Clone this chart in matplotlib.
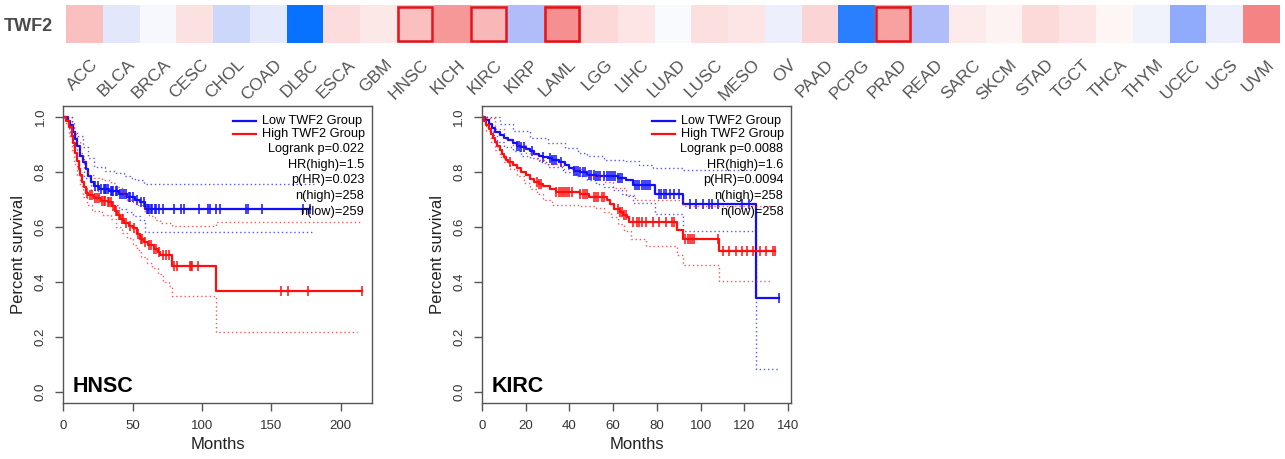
import numpy as np
import matplotlib
matplotlib.use("Agg")
import matplotlib.pyplot as plt
from matplotlib.colors import LinearSegmentedColormap
from matplotlib.patches import Rectangle
from matplotlib.transforms import ScaledTranslation

plt.rcParams['font.family'] = ['Liberation Sans', 'DejaVu Sans']

# ---------------- heatmap data ----------------
cancers = ["ACC", "BLCA", "BRCA", "CESC", "CHOL", "COAD", "DLBC", "ESCA", "GBM", "HNSC",
           "KICH", "KIRC", "KIRP", "LAML", "LGG", "LIHC", "LUAD", "LUSC", "MESO", "OV",
           "PAAD", "PCPG", "PRAD", "READ", "SARC", "SKCM", "STAD", "TGCT", "THCA", "THYM",
           "UCEC", "UCS", "UVM"]
hr_score = [0.28, -0.10, -0.03, 0.13, -0.20, -0.09, -0.97, 0.15, 0.10, 0.28,
            0.45, 0.31, -0.31, 0.49, 0.17, 0.11, -0.02, 0.14, 0.11, -0.06,
            0.18, -0.84, 0.41, -0.31, 0.09, 0.05, 0.16, 0.11, 0.04, -0.05,
            -0.43, -0.06, 0.54]
significant = ["HNSC", "KIRC", "LAML", "PRAD"]
gene = "TWF2"

# ---------------- HNSC survival ----------------
hnsc_low_t = [0, 3, 5, 7, 8.5, 10, 12, 14, 16, 18, 20, 22, 26, 33, 40, 46, 52, 55, 59, 178]
hnsc_low_s = [1, 0.985, 0.97, 0.945, 0.92, 0.895, 0.86, 0.835, 0.81, 0.785, 0.765, 0.75,
              0.74, 0.73, 0.72, 0.71, 0.70, 0.69, 0.665, 0.665]
hnsc_low_cens = [23, 25, 27, 29, 30, 31, 32, 34, 35, 36, 38, 39, 41, 42, 44, 45, 47, 48, 50,
                 53, 56, 58, 60, 61, 62, 63, 64, 66, 67, 69, 72, 80, 85, 87, 98, 104, 106,
                 110, 113, 132, 133, 143, 173, 178]
hnsc_low_up_t = [0, 3, 6, 8, 10, 14, 18, 22, 30, 38, 44, 48, 52, 58, 181]
hnsc_low_up_s = [1, 1, 0.98, 0.95, 0.93, 0.89, 0.85, 0.82, 0.805, 0.795, 0.785, 0.78, 0.77,
                 0.757, 0.757]
hnsc_low_lo_t = [0, 3, 5, 7, 10, 15, 20, 25, 30, 35, 40, 45, 50, 55, 59, 181]
hnsc_low_lo_s = [1, 0.96, 0.935, 0.90, 0.86, 0.78, 0.735, 0.71, 0.69, 0.68, 0.665, 0.655,
                 0.64, 0.627, 0.582, 0.582]

hnsc_high_t = [0, 2, 4, 6, 7, 8.5, 10, 11, 12, 13.5, 15, 16.5, 18, 22, 27, 32, 35, 37, 39,
               41, 44, 47, 50, 53, 55, 58, 61, 65, 68, 70, 78, 110, 215]
hnsc_high_s = [1, 0.985, 0.965, 0.93, 0.905, 0.87, 0.84, 0.81, 0.79, 0.765, 0.745, 0.725,
               0.715, 0.705, 0.695, 0.69, 0.675, 0.66, 0.645, 0.63, 0.615, 0.605, 0.595,
               0.575, 0.555, 0.545, 0.535, 0.52, 0.51, 0.50, 0.46, 0.367, 0.367]
hnsc_high_cens = [17, 19, 21, 23, 24, 26, 28, 29, 30, 32, 33, 34, 36, 38, 40, 42, 43, 45, 48,
                  51, 54, 56, 57, 59, 62, 63, 65, 67, 69, 72, 74, 76, 80, 82, 91, 92, 93, 97,
                  157, 162, 176, 215]
hnsc_high_up_t = [0, 3, 6, 8, 10, 12, 14, 16, 18, 22, 28, 34, 38, 42, 46, 50, 54, 58, 62,
                  66, 70, 78, 110, 214]
hnsc_high_up_s = [1, 1, 0.97, 0.94, 0.91, 0.87, 0.84, 0.81, 0.79, 0.78, 0.77, 0.76, 0.745,
                  0.72, 0.70, 0.69, 0.68, 0.66, 0.64, 0.625, 0.615, 0.602, 0.617, 0.617]
hnsc_high_lo_t = [0, 2, 4, 6, 8, 10, 12, 14, 17, 21, 28, 34, 38, 42, 46, 50, 53, 56, 60, 64,
                  68, 72, 76, 78, 110, 212]
hnsc_high_lo_s = [1, 0.97, 0.93, 0.88, 0.83, 0.79, 0.75, 0.71, 0.68, 0.66, 0.645, 0.63,
                  0.60, 0.58, 0.56, 0.535, 0.515, 0.49, 0.47, 0.45, 0.43, 0.40, 0.384,
                  0.348, 0.218, 0.218]

# ---------------- KIRC survival ----------------
kirc_low_t = [0, 1.5, 3, 4.5, 6, 8, 10, 12, 14, 16, 18, 20, 22, 24, 26, 28, 30, 32, 35, 38,
              40, 42, 45, 48, 52, 56, 62, 66, 69, 79, 92, 125.5, 136]
kirc_low_s = [1, 0.99, 0.975, 0.96, 0.945, 0.935, 0.925, 0.915, 0.905, 0.895, 0.89, 0.885,
              0.875, 0.865, 0.86, 0.855, 0.85, 0.845, 0.835, 0.825, 0.815, 0.805, 0.80,
              0.79, 0.787, 0.784, 0.78, 0.772, 0.754, 0.721, 0.685, 0.342, 0.342]
kirc_low_cens = [16, 17, 18, 19, 23, 28, 31, 32, 33, 34, 36, 42, 43, 44, 45, 46, 47, 49, 50,
                 51, 52, 53, 54, 56, 57, 58, 59, 60, 61, 62, 63, 64, 70, 71, 72, 73, 74, 75,
                 76, 77, 81, 82, 83, 84, 86, 88, 90, 95, 98, 101, 104, 105, 108, 119, 122,
                 136]
kirc_low_up_t = [0, 4, 8, 14, 22, 30, 38, 44, 48, 56, 66, 72, 78, 92, 125.5]
kirc_low_up_s = [1, 1, 0.975, 0.95, 0.925, 0.905, 0.887, 0.87, 0.857, 0.845, 0.839, 0.827,
                 0.815, 0.808, 0.808]
kirc_low_lo_t = [0, 3, 5, 7, 10, 14, 18, 22, 26, 30, 37, 43, 48, 52, 56, 60, 64, 66, 69, 79,
                 92, 125.5, 135.5]
kirc_low_lo_s = [1, 0.96, 0.935, 0.91, 0.89, 0.875, 0.86, 0.85, 0.835, 0.82, 0.80, 0.785,
                 0.77, 0.755, 0.745, 0.736, 0.72, 0.711, 0.687, 0.647, 0.584, 0.084, 0.084]

kirc_high_t = [0, 1, 2, 3, 4, 5, 6, 7, 8, 9, 10, 11, 12, 14, 16, 18, 20, 22, 24, 26, 28, 31,
               34, 45, 49, 57, 58.5, 60.5, 63, 64.5, 66.5, 67, 89, 92, 108.5, 134]
kirc_high_s = [1, 0.985, 0.97, 0.955, 0.94, 0.925, 0.91, 0.895, 0.88, 0.865, 0.855, 0.845,
               0.835, 0.825, 0.815, 0.80, 0.79, 0.775, 0.765, 0.755, 0.748, 0.74, 0.728,
               0.72, 0.71, 0.70, 0.685, 0.665, 0.655, 0.645, 0.635, 0.62, 0.588, 0.556,
               0.514, 0.514]
kirc_high_cens = [13, 25, 26, 27, 34, 35, 36, 37, 38, 39, 40, 41, 45, 46, 47, 48, 51, 52, 53,
                  55, 56, 62, 63, 64, 65, 66, 69, 71, 72, 73, 75, 78, 81, 84, 87, 88, 93, 94,
                  95, 96, 97, 108, 110, 113, 116, 119, 121, 124, 127, 130, 133, 134]
kirc_high_up_t = [0, 3, 6, 10, 14, 20, 25, 29, 37, 48, 56, 60, 66, 70, 92, 132]
kirc_high_up_s = [1, 0.995, 0.955, 0.92, 0.90, 0.87, 0.845, 0.83, 0.81, 0.784, 0.765, 0.742,
                  0.717, 0.70, 0.675, 0.675]
kirc_high_lo_t = [0, 2, 4, 6, 8, 10, 13, 16, 19, 22, 25, 28, 32, 45, 52, 56, 59, 62, 65, 68,
                  75, 89, 92, 108.5, 132]
kirc_high_lo_s = [1, 0.95, 0.91, 0.88, 0.855, 0.835, 0.81, 0.785, 0.76, 0.74, 0.72, 0.70,
                  0.68, 0.675, 0.668, 0.655, 0.635, 0.61, 0.585, 0.555, 0.53, 0.50, 0.463,
                  0.402, 0.402]

hnsc_stats = ["Logrank p=0.022", "HR(high)=1.5", "p(HR)=0.023", "n(high)=258", "n(low)=259"]
kirc_stats = ["Logrank p=0.0088", "HR(high)=1.6", "p(HR)=0.0094", "n(high)=258", "n(low)=258"]

BLUE = "#1010ff"
RED = "#ff1010"
AXCOL = "#555555"

fig = plt.figure(figsize=(12.85, 4.59), dpi=100)

# ---------------- heatmap ----------------
cmap = LinearSegmentedColormap.from_list(
    "gepia", [(0.0, "#0070ff"), (0.08, "#2a80ff"), (0.285, "#92acfb"),
              (0.345, "#b0bdf9"), (0.40, "#cdd7fa"), (0.45, "#e2e7fb"),
              (0.5, "#ffffff"), (1.0, "#ee1c1c")])
axh = fig.add_axes([0.051, 0.9063, 0.9443, 0.0828])
axh.imshow(np.array(hr_score)[None, :], cmap=cmap, vmin=-1, vmax=1, aspect="auto",
           extent=(-0.5, len(cancers) - 0.5, 0.5, -0.5))
for name in significant:
    i = cancers.index(name)
    axh.add_patch(Rectangle((i - 0.47, -0.45), 0.94, 0.9, fill=False,
                            edgecolor="#e3121b", lw=1.8))
axh.set_xlim(-0.5, len(cancers) - 0.5)
axh.set_ylim(0.5, -0.5)
axh.set_xticks(range(len(cancers)))
axh.set_xticklabels(cancers, rotation=45, ha="right", rotation_mode="anchor",
                    fontsize=12.5, color="#555555")
axh.tick_params(axis="x", length=0, pad=10)
off = ScaledTranslation(6 / 100, 0, fig.dpi_scale_trans)
for lab in axh.get_xticklabels():
    lab.set_transform(lab.get_transform() + off)
axh.set_yticks([0])
axh.set_yticklabels([gene], fontsize=13, fontweight="bold", color="#4a4a4a")
axh.tick_params(axis="y", length=0, pad=9)
for sp in axh.spines.values():
    sp.set_visible(False)


def step_at(t, s, x):
    idx = np.searchsorted(t, x, side="right") - 1
    return np.asarray(s)[idx]


def km_panel(ax, name, xmax, xticks, curves, stats):
    for t, s, cens, up_t, up_s, lo_t, lo_s, col in curves:
        ax.step(up_t, up_s, where="post", color=col, lw=1, ls=(0, (1, 2)), alpha=0.7)
        ax.step(lo_t, lo_s, where="post", color=col, lw=1, ls=(0, (1, 2)), alpha=0.7)
        ax.step(t, s, where="post", color=col, lw=1.6)
        ax.plot(cens, step_at(t, s, cens), ls="none", marker="|", ms=7, mew=1.1, color=col)
    ax.set_xlim(0, xmax)
    ax.set_ylim(-0.04, 1.04)
    ax.set_xticks(xticks)
    ax.set_yticks([0, 0.2, 0.4, 0.6, 0.8, 1.0])
    ax.set_yticklabels(["0.0", "0.2", "0.4", "0.6", "0.8", "1.0"], rotation=90, va="center")
    ax.tick_params(colors=AXCOL, labelcolor="#333333", labelsize=9.5, length=6, width=1, pad=6)
    for sp in ax.spines.values():
        sp.set_color(AXCOL)
        sp.set_linewidth(1)
    ax.set_xlabel("Months", fontsize=12, color="#222222", labelpad=4)
    ax.set_ylabel("Percent survival", fontsize=12, color="#222222", labelpad=6)
    ax.text(0.03, 0.038, name, transform=ax.transAxes, fontsize=15.5, fontweight="bold")
    # legend
    ax.plot([0.549, 0.625], [0.949, 0.949], transform=ax.transAxes, color=BLUE, lw=1.6)
    ax.plot([0.549, 0.625], [0.906, 0.906], transform=ax.transAxes, color=RED, lw=1.6)
    ax.text(0.644, 0.949, "Low TWF2 Group", transform=ax.transAxes, fontsize=9.2,
            va="center", ha="left")
    ax.text(0.644, 0.906, "High TWF2 Group", transform=ax.transAxes, fontsize=9.2,
            va="center", ha="left")
    for k, line in enumerate(stats):
        ax.text(0.975, [0.856, 0.801, 0.75, 0.698, 0.644][k], line, transform=ax.transAxes,
                fontsize=9.2, va="center", ha="right")


ax1 = fig.add_axes([0.0493, 0.122, 0.2402, 0.647])
km_panel(ax1, "HNSC", 222.5, [0, 50, 100, 150, 200],
         [(hnsc_low_t, hnsc_low_s, hnsc_low_cens, hnsc_low_up_t, hnsc_low_up_s,
           hnsc_low_lo_t, hnsc_low_lo_s, BLUE),
          (hnsc_high_t, hnsc_high_s, hnsc_high_cens, hnsc_high_up_t, hnsc_high_up_s,
           hnsc_high_lo_t, hnsc_high_lo_s, RED)],
         hnsc_stats)

ax2 = fig.add_axes([0.3751, 0.122, 0.2405, 0.647])
km_panel(ax2, "KIRC", 141.3, [0, 20, 40, 60, 80, 100, 120, 140],
         [(kirc_low_t, kirc_low_s, kirc_low_cens, kirc_low_up_t, kirc_low_up_s,
           kirc_low_lo_t, kirc_low_lo_s, BLUE),
          (kirc_high_t, kirc_high_s, kirc_high_cens, kirc_high_up_t, kirc_high_up_s,
           kirc_high_lo_t, kirc_high_lo_s, RED)],
         kirc_stats)

fig.savefig("out.png", dpi=100)
